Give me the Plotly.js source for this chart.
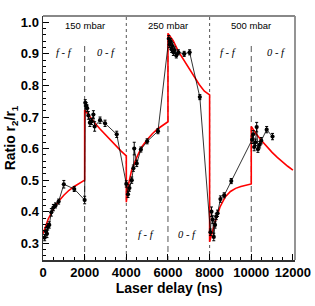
<!DOCTYPE html>
<html>
<head>
<meta charset="utf-8">
<script src="https://cdn.plot.ly/plotly-3.0.1.min.js"></script>
<style>html,body{margin:0;padding:0;background:#fff;}#chart{width:315px;height:306px;}</style>
</head>
<body>
<div id="chart"></div>
<script>
// Measured data (black points with error bars)
const dataX = [80,140,190,230,300,400,500,600,750,1000,1500,2000,
  2030,2070,2120,2180,2250,2330,2420,2480,2740,2980,3540,
  4000,4080,4150,4260,4340,4380,4500,4700,5000,5520,
  6040,6080,6130,6170,6220,6260,6320,6400,6500,6780,7040,7530,
  8040,8090,8150,8200,8260,8320,8380,8520,8700,9040,
  10040,10090,10140,10200,10260,10320,10400,10480,10740,11020];
const dataY = [0.318,0.338,0.330,0.352,0.358,0.398,0.413,0.420,0.432,0.487,0.472,0.437,
  0.745,0.736,0.728,0.705,0.682,0.686,0.708,0.670,0.690,0.680,0.645,
  0.488,0.455,0.475,0.500,0.538,0.600,0.553,0.597,0.623,0.655,
  0.948,0.930,0.940,0.915,0.925,0.905,0.912,0.895,0.905,0.900,0.905,0.763,
  0.335,0.400,0.375,0.320,0.358,0.385,0.395,0.440,0.452,0.497,
  0.628,0.645,0.605,0.620,0.668,0.598,0.612,0.625,0.660,0.638];
const dataErr = [0.010,0.012,0.012,0.010,0.010,0.012,0.010,0.008,0.008,0.012,0.008,0.012,
  0.010,0.010,0.010,0.012,0.012,0.010,0.012,0.015,0.010,0.010,0.010,
  0.010,0.010,0.010,0.010,0.010,0.020,0.010,0.008,0.008,0.008,
  0.010,0.010,0.008,0.010,0.010,0.010,0.010,0.008,0.008,0.008,0.008,0.008,
  0.010,0.015,0.012,0.012,0.010,0.010,0.010,0.010,0.008,0.008,
  0.012,0.012,0.012,0.010,0.015,0.010,0.010,0.010,0.010,0.010];

// Model curve (red)
const modelX = [0,100,250,500,750,1000,1250,1500,1750,2000,
  2000,2250,2500,2750,3000,3250,3500,3750,4000,
  4000,4100,4250,4500,4750,5000,5250,5500,5750,6000,
  6000,6250,6500,6750,7000,7250,7500,7750,8000,
  8000,8100,8250,8500,8750,9000,9250,9500,9750,10000,
  10000,10250,10500,10750,11000,11250,11500,11750,12000];
const modelY = [0.330,0.350,0.377,0.408,0.433,0.452,0.468,0.480,0.491,0.500,
  0.722,0.700,0.680,0.661,0.643,0.626,0.608,0.592,0.577,
  0.430,0.485,0.530,0.572,0.606,0.628,0.647,0.662,0.674,0.685,
  0.965,0.942,0.908,0.882,0.855,0.828,0.803,0.782,0.770,
  0.305,0.330,0.365,0.415,0.447,0.464,0.474,0.480,0.485,0.488,
  0.670,0.645,0.625,0.605,0.588,0.572,0.557,0.544,0.532];

const xTicks = [0,2000,4000,6000,8000,10000,12000];
const xTickText = ['0','2000','4000','6000','8000','10000','12000'];
const pressureLabels = ['150 mbar','250 mbar','500 mbar'];
const pressureX = [2000,6000,10000];
const dashedX = [2000,6000,10000];
const dottedX = [4000,8000];

const traces = [
  {x: modelX, y: modelY, mode: 'lines', line: {color: '#ff0000', width: 1.6}, hoverinfo: 'skip'},
  {x: dataX, y: dataY, mode: 'lines+markers',
   line: {color: '#000', width: 0.8},
   marker: {color: '#000', size: 4.2},
   error_y: {type: 'data', array: dataErr, visible: true, color: '#000', thickness: 1, width: 1.5}}
];

const shapes = [];
dashedX.forEach(x => shapes.push({type: 'line', xref: 'x', yref: 'y', x0: x, x1: x, y0: 0.925, y1: 0.247,
  line: {color: '#555', width: 1, dash: '6px,4px'}, layer: 'below'}));
dottedX.forEach(x => shapes.push({type: 'line', xref: 'x', yref: 'paper', x0: x, x1: x, y0: 0, y1: 1,
  line: {color: '#555', width: 1, dash: 'dot'}, layer: 'below'}));
shapes.push({type: 'line', xref: 'paper', yref: 'paper', x0: 0, x1: 1, y0: 1, y1: 1, line: {color: '#888', width: 1.8}});
shapes.push({type: 'line', xref: 'paper', yref: 'paper', x0: 1, x1: 1, y0: 0, y1: 1, line: {color: '#888', width: 1.8}});

const annFont = {family: 'Liberation Sans, Arial, sans-serif', size: 9.5, color: '#000'};
const itFont = {family: 'Liberation Serif, Times New Roman, serif', size: 10.5, color: '#000', style: 'italic'};
const annotations = [];
pressureLabels.forEach((t, i) => annotations.push({x: pressureX[i], y: 0.989, xref: 'x', yref: 'y', text: t, showarrow: false, font: annFont}));
[[1010,0.903,'f - f'],[3070,0.903,'0 - f'],[8920,0.903,'f - f'],[11220,0.903,'0 - f'],
 [4990,0.327,'f - f'],[6950,0.327,'0 - f']].forEach(a =>
  annotations.push({x: a[0], y: a[1], xref: 'x', yref: 'y', text: a[2], showarrow: false, font: itFont}));

const tickFont = {family: 'Liberation Sans, Arial, sans-serif', size: 13, color: '#000', weight: 'bold'};
const layout = {
  width: 315, height: 306,
  margin: {l: 43, r: 20, t: 16, b: 46},
  paper_bgcolor: '#fff', plot_bgcolor: '#fff',
  showlegend: false,
  xaxis: {range: [0, 12100], tickvals: xTicks, ticktext: xTickText, ticks: 'inside', ticklen: 6, tickwidth: 1, tickcolor: '#000',
    minor: {dtick: 500, ticks: 'inside', ticklen: 3, tickcolor: '#000', tickwidth: 1},
    showline: true, linecolor: '#333', linewidth: 1.5, showgrid: false, zeroline: false, tickfont: tickFont,
    title: {text: 'Laser delay (ns)', font: {family: 'Liberation Sans, Arial, sans-serif', size: 14, color: '#000', weight: 'bold'}, standoff: 0}},
  yaxis: {range: [0.247, 1.02], dtick: 0.1, tick0: 0, tickformat: '.1f', ticks: 'inside', ticklen: 6, tickwidth: 1, tickcolor: '#000',
    minor: {dtick: 0.02, ticks: 'inside', ticklen: 3, tickcolor: '#000', tickwidth: 1},
    showline: true, linecolor: '#333', linewidth: 1.5, showgrid: false, zeroline: false, tickfont: tickFont,
    title: {text: 'Ratio r<sub>2</sub>/r<sub>1</sub>', font: {family: 'Liberation Sans, Arial, sans-serif', size: 14, color: '#000', weight: 'bold'}, standoff: 2}},
  shapes: shapes,
  annotations: annotations
};
Plotly.newPlot('chart', traces, layout, {displayModeBar: false, staticPlot: true});
</script>
</body>
</html>
